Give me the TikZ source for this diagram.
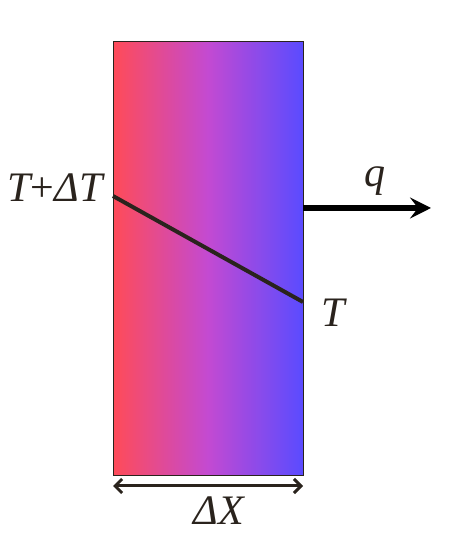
\documentclass[tikz,border=0pt]{standalone}
\usepackage{fontspec}
\setmainfont{Liberation Serif}
\usetikzlibrary{arrows.meta}
\definecolor{lred}{HTML}{FF4B58}
\definecolor{lmid}{HTML}{C34AD2}
\definecolor{lblue}{HTML}{5A4BFF}
\definecolor{ink}{HTML}{2A231D}
\tikzset{
  lbl/.style={font=\fontsize{42}{46}\selectfont\itshape, text=ink, inner sep=0pt},
}
\begin{document}
\begin{tikzpicture}[x=1pt,y=1pt]
\useasboundingbox (0,0) rectangle (449,559);
\shade[left color=lred, right color=lblue, middle color=lmid] (113,83) rectangle (303,517);
\draw[ink, line width=1pt] (113,83) rectangle (303,517);
\coordinate (hot) at (113,363);
\coordinate (cold) at (303,257);
\coordinate (qs) at (303,351);
\coordinate (qe) at (431,351);
\coordinate (dl) at (113,73);
\coordinate (dr) at (303,73);
\draw[ink, line width=4pt] (hot) -- (cold);
\draw[black, line width=6pt, -{Stealth[length=21pt,width=21pt,inset=8pt]}] (qs) -- (qe);
\draw[ink, line width=3pt, {Straight Barb[length=7pt,width=14pt]}-{Straight Barb[length=7pt,width=14pt]}] (dl) -- (dr);
\node[lbl, anchor=base] (ldt) at (55,357) {T{\upshape+}ΔT};
\node[lbl, anchor=base] (lq) at (375,372) {q};
\node[lbl, anchor=base] (lt) at (333,232) {T};
\node[lbl, anchor=base] (ldx) at (219,34) {ΔX};
\end{tikzpicture}
\end{document}
